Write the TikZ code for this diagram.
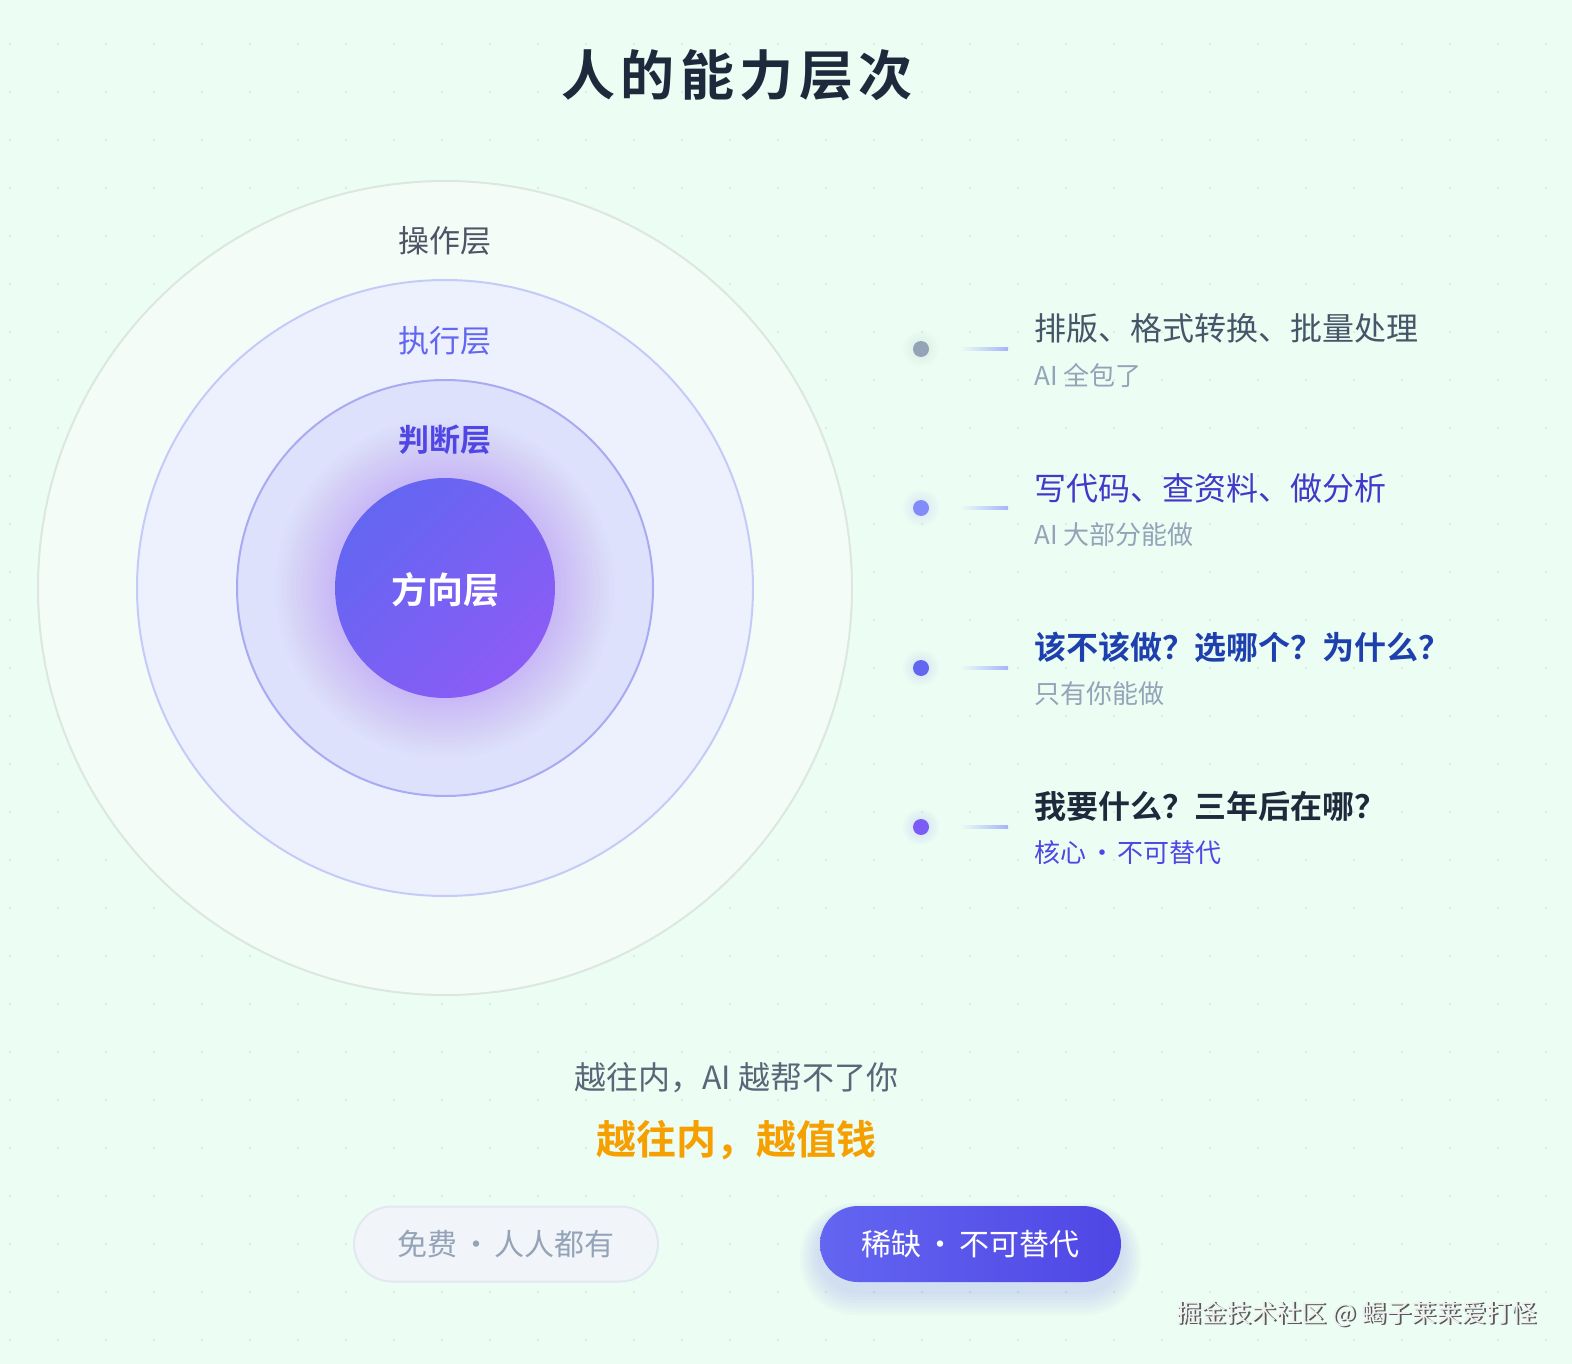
\documentclass[tikz,border=0pt]{standalone}
\usepackage{fontspec}
\setmainfont{Noto Sans CJK SC}[BoldFont={Noto Sans CJK SC Bold}]
\usetikzlibrary{calc}
\definecolor{bg}{HTML}{ECFDF3}
\definecolor{griddot}{HTML}{DCEDE3}
\definecolor{ring1}{HTML}{F4FCF8}
\definecolor{ring1b}{HTML}{DCE7E1}
\definecolor{ring2}{HTML}{EDF1FD}
\definecolor{ring2b}{HTML}{C5CBF8}
\definecolor{ring3}{HTML}{DDE1FC}
\definecolor{ring3b}{HTML}{A9ABF2}
\definecolor{indA}{HTML}{6366F1}
\definecolor{vioB}{HTML}{8B5CF6}
\definecolor{ind6}{HTML}{4F46E5}
\definecolor{slate6}{HTML}{475569}
\definecolor{slate4}{HTML}{94A3B8}
\definecolor{dark}{HTML}{1E293B}
\definecolor{blue8}{HTML}{1E40AF}
\definecolor{ind7}{HTML}{4338CA}
\definecolor{gray6}{HTML}{4B5563}
\definecolor{orng}{HTML}{F5A000}
\definecolor{lineC}{HTML}{A5B4FC}
\definecolor{dot1}{HTML}{94A3B8}
\definecolor{dot2}{HTML}{818CF8}
\definecolor{dot3}{HTML}{6366F1}
\definecolor{dot4}{HTML}{7C5CF6}
\definecolor{pillL}{HTML}{F1F5F9}
\definecolor{pillLb}{HTML}{E2E8F0}
\begin{document}
\begin{tikzpicture}[x=1pt,y=-1pt,
  ring/.style={circle, inner sep=0pt, outer sep=0pt, line width=2pt},
  lab/.style={inner sep=0pt, font=\fontsize{31}{36}\selectfont},
  ttl/.style={anchor=west, inner sep=0pt, font=\fontsize{32}{38}\selectfont},
  sub/.style={anchor=west, inner sep=0pt, font=\fontsize{26}{30}\selectfont},
  ldot/.style={circle, inner sep=0pt, minimum size=16},
  pill/.style={rounded corners=37.5, minimum height=75, inner sep=0pt, font=\fontsize{30}{34}\selectfont}
]
\useasboundingbox (0,0) rectangle (1572,1364);
\fill[bg] (0,0) rectangle (1572,1364);
\foreach \i in {0,...,32} \foreach \j in {0,...,27} \fill[griddot] ({10+48*\i},{44+48*\j}) circle (1.5);

% title
\node[inner sep=0pt, text=dark, font=\fontsize{54}{60}\selectfont\bfseries\addfontfeatures{LetterSpace=10}] (title) at (737,75) {人的能力层次};

% rings
\coordinate (C) at (445,588);
\node[ring, minimum size=814, fill=ring1, draw=ring1b] (r1) at (C) {};
\node[ring, minimum size=616, fill=ring2, draw=ring2b] (r2) at (C) {};
\node[ring, minimum size=416, fill=ring3, draw=ring3b] (r3) at (C) {};
\foreach \k in {1,...,20} \fill[vioB, opacity=0.010] (C) circle ({110+3*\k});
\node[ring, minimum size=220, top color=indA, bottom color=vioB, shading angle=45] (core) at (C) {};

\node[lab, text=gray6] (op) at (445,241) {操作层};
\node[lab, text=indA] (ex) at (445,341) {执行层};
\node[lab, text=ind6, font=\fontsize{31}{36}\selectfont\bfseries] (ju) at (445,440) {判断层};
\node[inner sep=0pt, text=white, font=\fontsize{36}{40}\selectfont\bfseries] (dir) at (445,590) {方向层};

% list
\foreach \y/\c in {349/dot1,508/dot2,668/dot3,827/dot4}{
  \foreach \k in {1,...,5} \fill[\c, opacity=0.02] (921,\y) circle ({8+2*\k});
}
\node[ldot, fill=dot1] (d1) at (921,349) {};
\node[ldot, fill=dot2] (d2) at (921,508) {};
\node[ldot, fill=dot3] (d3) at (921,668) {};
\node[ldot, fill=dot4] (d4) at (921,827) {};
\foreach \n/\y in {1/349,2/508,3/668,4/827}{
  \coordinate (la\n) at (960,\y-1.5);
  \coordinate (lb\n) at (1008,\y+1.5);
  \shade[left color=bg, right color=lineC] (la\n) rectangle (lb\n);
}

\node[ttl, text=slate6] (t1) at (1034,328) {排版、格式转换、批量处理};
\node[sub, text=slate4] (s1) at (1034,375) {AI 全包了};
\node[ttl, text=ind7] (t2) at (1034,488) {写代码、查资料、做分析};
\node[sub, text=slate4] (s2) at (1034,535) {AI 大部分能做};
\node[ttl, text=blue8, font=\fontsize{32}{38}\selectfont\bfseries] (t3) at (1034,647) {该不该做？选哪个？为什么？};
\node[sub, text=slate4] (s3) at (1034,694) {只有你能做};
\node[ttl, text=dark, font=\fontsize{32}{38}\selectfont\bfseries] (t4) at (1034,806) {我要什么？三年后在哪？};
\node[sub, text=ind6] (s4) at (1034,853) {核心\hspace{-3pt} · \hspace{-3pt}不可替代};

% bottom
\node[inner sep=0pt, text=slate6!90, font=\fontsize{32}{36}\selectfont] (b1) at (736,1078) {越往内，AI 越帮不了你};
\node[inner sep=0pt, text=orng, font=\fontsize{40}{46}\selectfont\bfseries] (b2) at (736,1140) {越往内，越值钱};

\node[pill, minimum width=304, fill=pillL, draw=pillLb, line width=2pt, text=slate4] (p1) at (506,1244) {免费\hspace{-3pt} · \hspace{-3pt}人人都有};
\foreach \k in {1,...,8} \fill[indA, opacity=0.022, rounded corners={38+\k*2}] ({820-\k*2.5},{1215-\k*1.5+0}) rectangle ({1121+\k*2.5},{1291+\k*3});
\node[pill, minimum width=301, minimum height=76, rounded corners=38, left color=indA, right color=ind6, text=white] (p2) at (970.5,1244) {稀缺\hspace{-3pt} · \hspace{-3pt}不可替代};

% watermark
\node[inner sep=0pt, anchor=east, text=gray!70!black, font=\fontsize{25}{28}\selectfont] (wms) at (1538.5,1315.5) {掘金技术社区 @ 蝎子莱莱爱打怪};
\node[inner sep=0pt, anchor=east, text=white!88!gray, font=\fontsize{25}{28}\selectfont] (wm) at (1537,1314) {掘金技术社区 @ 蝎子莱莱爱打怪};
\end{tikzpicture}
\end{document}
